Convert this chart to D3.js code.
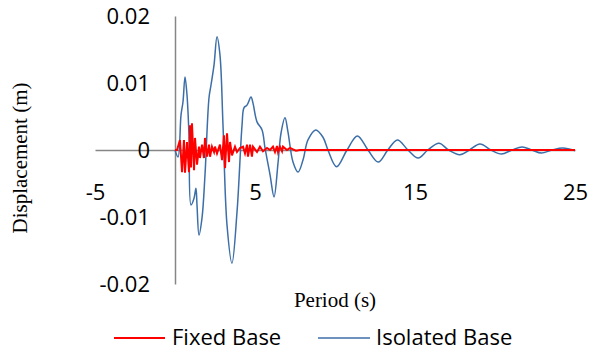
<!DOCTYPE html>
<html>
<head>
<meta charset="utf-8">
<script src="https://cdn.jsdelivr.net/npm/d3@7"></script>
<style>
  body { margin: 0; background: #fff; }
  svg text { fill: #000; }
</style>
</head>
<body>
<div id="chart"></div>
<script>
// series names
const seriesNames = ["Fixed Base", "Isolated Base"];

// tick labels
const xTicks = [-5, 5, 15, 25];
const xTickLabels = ["-5", "5", "15", "25"];
const yTicks = [-0.02, -0.01, 0, 0.01, 0.02];
const yTickLabels = ["-0.02", "-0.01", "0", "0.01", "0.02"];

// Fixed Base: [time (s), displacement (m)]
const fixedBase = [
  [0, 0], [0.125, 0], [0.31, 0.0015], [0.44, -0.0033], [0.56, 0.0015], [0.625, -0.0034],
  [0.75, 0.0012], [0.875, -0.0033], [0.94, 0.0037], [1.0, -0.0026], [1.06, 0.0040],
  [1.19, -0.0030], [1.25, 0.0018], [1.375, -0.0022], [1.5, 0.0005], [1.56, -0.0012],
  [1.69, 0.0008], [1.81, -0.0012], [1.875, 0.0018], [2.0, -0.0010], [2.125, 0.0008],
  [2.19, -0.0010], [2.31, 0.0005], [2.44, -0.0003], [2.5, 0.0005], [2.625, -0.0005],
  [2.81, 0.0008], [2.94, -0.0015], [3.06, 0.0022], [3.125, -0.0027], [3.25, 0.0025],
  [3.375, -0.0018], [3.44, 0.0012], [3.56, -0.0008], [3.75, 0.0005], [3.875, -0.0003],
  [4.06, 0.0003], [4.25, 0.0005], [4.375, -0.0005], [4.5, 0.0008], [4.56, -0.0010],
  [4.69, 0.0008], [4.81, -0.0010], [4.875, 0.0005], [5.125, -0.0003], [5.31, 0.0005],
  [5.5, -0.0002], [5.75, 0.0003], [5.94, 0], [6.125, 0.0005], [6.25, -0.0003],
  [6.375, 0.0006], [6.44, -0.0003], [6.56, 0.0005], [6.69, -0.0002], [6.75, 0.0005],
  [7.0, 0], [7.19, 0.0003], [7.375, 0.0001], [7.56, -0.0001], [7.8, 0], [25, 0]
];

// Isolated Base: [time (s), displacement (m)]
const isolatedBase = [
  [0, 0], [0.19, -0.00104], [0.375, 0.0052], [0.5, 0.0072], [0.625, 0.0109], [0.75, 0.0082],
  [0.875, 0.0022], [1.0, -0.0082], [1.19, -0.0072], [1.31, -0.0057], [1.375, -0.0082],
  [1.5, -0.0127], [1.69, -0.0101], [1.875, -0.0037], [2.125, 0.0078], [2.25, 0.0097],
  [2.44, 0.0127], [2.625, 0.0169], [2.81, 0.0142], [3.0, 0.0037], [3.25, -0.0112],
  [3.56, -0.0169], [3.875, -0.0093], [4.19, 0.0037], [4.31, 0.0063], [4.5, 0.0067],
  [4.75, 0.0079], [4.875, 0.0070], [5.125, 0.0042], [5.44, 0.0030], [5.625, 0.0003],
  [5.94, -0.0037], [6.19, -0.0070], [6.44, -0.0019], [6.625, 0.0025], [6.875, 0.0048],
  [7.06, 0.0027], [7.375, -0.0018], [7.69, -0.0033], [8.0, -0.0015], [8.31, 0.0015],
  [8.8, 0.0030], [9.25, 0.0019], [9.56, 0], [10.1, -0.0025], [10.75, 0], [11.4, 0.0021],
  [12.06, 0], [12.7, -0.0018], [13.3, 0], [13.9, 0.0015], [14.56, 0], [15.2, -0.0012],
  [15.8, 0], [16.5, 0.0010], [17.1, 0], [17.8, -0.0007], [18.4, 0], [19.06, 0.0009],
  [19.75, 0], [20.4, -0.0006], [21.06, 0], [21.7, 0.00045], [22.3, 0], [22.9, -0.00045],
  [23.56, 0], [24.25, 0.0003], [25, -0.0001]
];

const width = 590, height = 354;
const axisColor = "#868686";
const tickFont = "'Open Sans', sans-serif";
const titleFont = "'Liberation Serif', 'Times New Roman', serif";

const svg = d3.select("#chart").append("svg")
  .attr("width", width)
  .attr("height", height);

const x = d3.scaleLinear().domain([-5, 25]).range([95, 575]);
const y = d3.scaleLinear().domain([-0.02, 0.02]).range([284, 16]);

// x axis through zero
const xAxis = svg.append("g")
  .attr("transform", `translate(0,${y(0)})`)
  .call(d3.axisBottom(x).tickValues(xTicks).tickSize(0).tickSizeOuter(0).tickPadding(34)
    .tickFormat((d, i) => xTickLabels[i]));

// y axis through zero
const yAxis = svg.append("g")
  .attr("transform", `translate(${x(0)},0)`)
  .call(d3.axisLeft(y).tickValues(yTicks).tickSize(0).tickSizeOuter(0).tickPadding(25)
    .tickFormat((d, i) => yTickLabels[i]));

[xAxis, yAxis].forEach(g => {
  g.select(".domain").attr("stroke", axisColor).attr("stroke-width", 1.5);
  g.selectAll("text")
    .style("font-family", tickFont)
    .style("font-size", "22px")
    .attr("fill", "#000");
});

const line = d3.line()
  .x(d => x(d[0]))
  .y(d => y(d[1]));

svg.append("path")
  .datum(isolatedBase)
  .attr("d", line.curve(d3.curveCatmullRom)(isolatedBase))
  .attr("fill", "none")
  .attr("stroke", "#3c6ea8")
  .attr("stroke-width", 1.5);

svg.append("path")
  .datum(fixedBase)
  .attr("d", line.curve(d3.curveLinear)(fixedBase))
  .attr("fill", "none")
  .attr("stroke", "#ff0000")
  .attr("stroke-width", 2);

// axis titles
svg.append("text")
  .attr("transform", "translate(27,158) rotate(-90)")
  .style("text-anchor", "middle")
  .style("font-family", titleFont)
  .style("font-size", "21px")
  .text("Displacement (m)");

svg.append("text")
  .attr("x", 335)
  .attr("y", 307)
  .style("text-anchor", "middle")
  .style("font-family", titleFont)
  .style("font-size", "21px")
  .text("Period (s)");

// legend
const legendItems = [
  { name: seriesNames[0], color: "#ff0000", width: 2, x1: 114, x2: 165, tx: 172 },
  { name: seriesNames[1], color: "#3c6ea8", width: 1.5, x1: 318, x2: 370, tx: 376 }
];
legendItems.forEach(d => {
  svg.append("line")
    .attr("x1", d.x1).attr("x2", d.x2)
    .attr("y1", 338).attr("y2", 338)
    .attr("stroke", d.color)
    .attr("stroke-width", d.width);
  svg.append("text")
    .attr("x", d.tx)
    .attr("y", 345)
    .style("font-family", tickFont)
    .style("font-size", "22px")
    .text(d.name);
});
</script>
</body>
</html>
